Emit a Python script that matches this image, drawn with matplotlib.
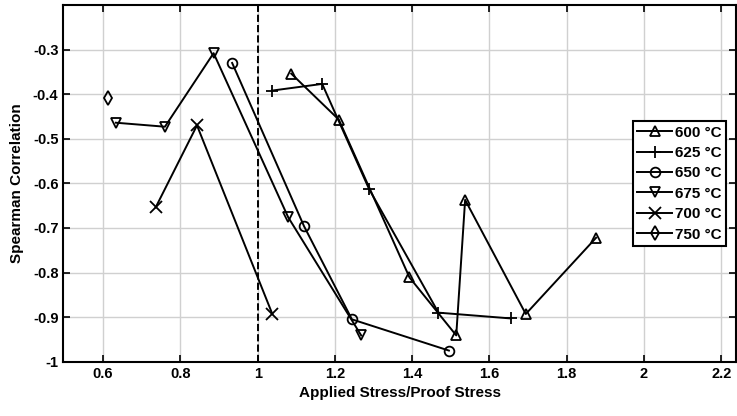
import matplotlib
matplotlib.use('Agg')
import matplotlib.pyplot as plt

# data
x600 = [1.087, 1.210, 1.393, 1.514, 1.537, 1.694, 1.876]
y600 = [-0.354, -0.457, -0.811, -0.941, -0.637, -0.893, -0.722]
x625 = [1.037, 1.167, 1.288, 1.468, 1.656]
y625 = [-0.392, -0.377, -0.612, -0.890, -0.903]
x650 = [0.934, 1.120, 1.244, 1.495]
y650 = [-0.330, -0.696, -0.905, -0.975]
x675 = [0.633, 0.760, 0.886, 1.079, 1.268]
y675 = [-0.464, -0.473, -0.308, -0.676, -0.941]
x700 = [0.736, 0.843, 1.038]
y700 = [-0.654, -0.470, -0.893]
x750 = [0.613]
y750 = [-0.409]

labels = ['600 °C', '625 °C', '650 °C', '675 °C', '700 °C', '750 °C']
markers = ['^', '+', 'o', 'v', 'x', 'd']

plt.rcParams['font.family'] = ['Liberation Sans', 'DejaVu Sans']
plt.rcParams['font.weight'] = 'bold'

fig = plt.figure(figsize=(7.37, 4.16), dpi=100)
ax = fig.add_axes([0.0859, 0.1305, 0.9127, 0.8575])

series = [(x600, y600), (x625, y625), (x650, y650), (x675, y675), (x700, y700), (x750, y750)]
for (xs, ys), lab, mk in zip(series, labels, markers):
    ms = 8 if mk in ('+', 'x') else 7
    ax.plot(xs, ys, '-', color='black', lw=1.4, marker=mk, ms=ms,
            mfc='none', mec='black', mew=1.3, label=lab)

ax.axvline(1.0, color='black', ls='--', lw=1.4)

ax.set_xlim(0.497, 2.238)
ax.set_ylim(-1.0, -0.2)
ax.set_xticks([0.6, 0.8, 1.0, 1.2, 1.4, 1.6, 1.8, 2.0, 2.2])
ax.set_xticklabels(['0.6', '0.8', '1', '1.2', '1.4', '1.6', '1.8', '2', '2.2'])
ax.set_yticks([-1.0, -0.9, -0.8, -0.7, -0.6, -0.5, -0.4, -0.3])
ax.set_yticklabels(['-1', '-0.9', '-0.8', '-0.7', '-0.6', '-0.5', '-0.4', '-0.3'])
ax.tick_params(direction='in', top=True, right=True, labelsize=10.5, length=5, width=1.2)
ax.grid(True, color='#d0d0d0', lw=1)
ax.set_axisbelow(True)
for s in ax.spines.values():
    s.set_linewidth(1.5)

ax.set_xlabel('Applied Stress/Proof Stress', fontsize=11, fontweight='bold', labelpad=4)
ax.set_ylabel('Spearman Correlation', fontsize=11, fontweight='bold', labelpad=6)

leg = ax.legend(loc='upper right', bbox_to_anchor=(0.985, 0.675), fontsize=11,
                handlelength=2.3, handletextpad=0.15, borderpad=0.3, labelspacing=0.42,
                fancybox=False, framealpha=1, edgecolor='black', borderaxespad=0)
leg.get_frame().set_linewidth(1.5)

fig.savefig('out.png', dpi=100)
